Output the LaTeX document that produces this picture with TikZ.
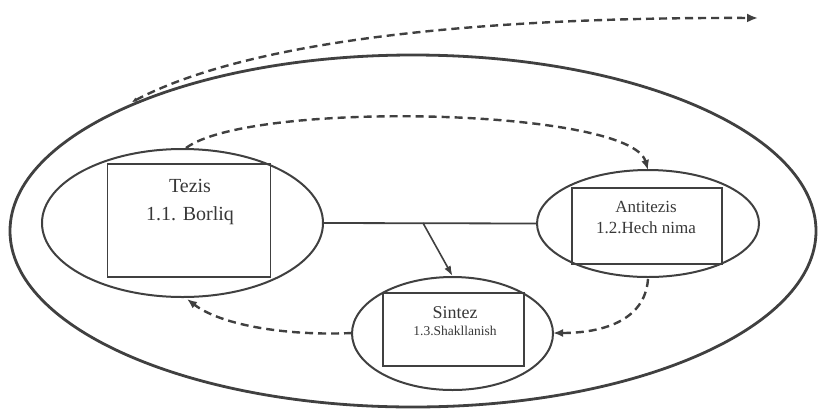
\documentclass[tikz,border=0pt]{standalone}
\usepackage{fontspec}
\setmainfont{Liberation Serif}
\usetikzlibrary{shapes.geometric,arrows.meta}
\definecolor{ink}{HTML}{404040}
\definecolor{txt}{HTML}{383838}
\tikzset{
  ovalline/.style={draw=ink,line width=2pt,ellipse,inner sep=0pt},
  boxline/.style={draw=ink,line width=1.3pt,rectangle,inner sep=0pt},
  lbl/.style={text=txt,anchor=base,inner sep=0pt},
  dashline/.style={draw=ink,line width=2.4pt,dash pattern=on 8pt off 5pt},
  tipA/.style={-{Latex[length=10pt,width=8pt]}},
}
\begin{document}
\begin{tikzpicture}[x=1pt,y=-1pt]
\useasboundingbox (0,0) rectangle (818,413);
\fill[white] (0,0) rectangle (818,413);
% outer ellipse
\node[ovalline,line width=2.8pt,minimum width=806pt,minimum height=352pt] (outer) at (413,231) {};
% Tezis
\node[ovalline,minimum width=281pt,minimum height=148pt] (tezE) at (182.5,223) {};
\node[boxline,minimum width=163pt,minimum height=113pt] (tezB) at (189,220.5) {};
\node[lbl,font=\fontsize{20}{24}\selectfont] (tezT1) at (190,192) {Tezis};
\node[lbl,font=\fontsize{20}{24}\selectfont] (tezT2) at (190,220) {1.1. Borliq};
% Antitezis
\node[ovalline,minimum width=222pt,minimum height=107pt] (antE) at (648,223.5) {};
\node[boxline,minimum width=150pt,minimum height=76pt] (antB) at (647,226) {};
\node[lbl,font=\fontsize{17}{20}\selectfont] (antT1) at (646,212) {Antitezis};
\node[lbl,font=\fontsize{17}{20}\selectfont] (antT2) at (646,233) {1.2.Hech nima};
% Sintez
\node[ovalline,minimum width=201pt,minimum height=113pt] (sinE) at (452.5,333.5) {};
\node[boxline,minimum width=141pt,minimum height=73pt] (sinB) at (453.5,329.5) {};
\node[lbl,font=\fontsize{18}{20}\selectfont] (sinT1) at (455,318) {Sintez};
\node[lbl,font=\fontsize{13.5}{16}\selectfont] (sinT2) at (455,335) {1.3.Shakllanish};
% connectors
\coordinate (J) at (423,223);
\draw[ink,line width=1.8pt] (tezE.east) -- (antE.west);
\draw[ink,line width=1.6pt,-{Latex[length=10pt,width=7pt]}] (J) -- (sinE.north);
% dashed cycle
\coordinate (tezTop) at (186,148);
\coordinate (antTop) at (648,170);
\coordinate (antBot) at (648,279);
\coordinate (sinRight) at (553,333);
\coordinate (sinLeft) at (352,333);
\coordinate (tezBot) at (187,299);
\draw[dashline,tipA] (tezTop) .. controls (250,100) and (630,108) .. (antTop);
\draw[dashline,tipA] (antBot) .. controls (645,322) and (600,333) .. (sinRight);
\draw[dashline,tipA] (sinLeft) .. controls (290,336) and (222,326) .. (tezBot);
% big outer dashed arrow
\coordinate (bigStart) at (132,102);
\coordinate (bigEnd) at (758,18);
\draw[dashline,{Latex[length=5pt,width=5pt]}-{Latex[length=11pt,width=9pt]}] (bigStart) .. controls (250,40) and (480,17) .. (bigEnd);
\end{tikzpicture}
\end{document}
